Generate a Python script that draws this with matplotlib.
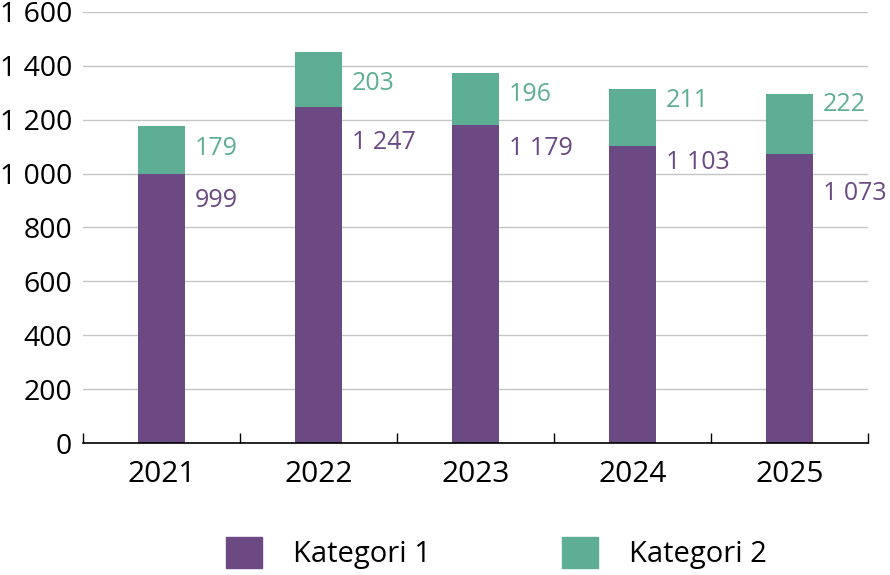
import matplotlib
matplotlib.use('Agg')
import matplotlib.pyplot as plt
from matplotlib.ticker import FuncFormatter, FixedLocator
from matplotlib.patches import Patch
import numpy as np

plt.rcParams['font.family'] = ['Open Sans', 'DejaVu Sans']

years = ['2021', '2022', '2023', '2024', '2025']
kat1 = [999, 1247, 1179, 1103, 1073]
kat2 = [179, 203, 196, 211, 222]
names = ['Kategori 1', 'Kategori 2']

# label heights (data units), picked by hand to avoid overlaps like the original
lab1_y = [902, 1114, 1095, 1043, 928]
lab2_y = [1095, 1336, 1292, 1270, 1258]

purple = '#6b4a84'
green = '#5eae96'


def fmt(v, pos=None):
    return '{:,}'.format(int(v)).replace(',', ' ')


fig = plt.figure(figsize=(8.9, 5.75), dpi=100)
ax = fig.add_axes([83/890, 1 - 443/575, 785/890, 431/575])

x = np.arange(len(years))
ax.bar(x, kat1, width=0.3, color=purple, zorder=3)
ax.bar(x, kat2, width=0.3, bottom=kat1, color=green, zorder=3)

for i in range(len(years)):
    ax.annotate(fmt(kat1[i]), (x[i] + 0.15, lab1_y[i]), xytext=(7, 0),
                textcoords='offset points', va='center', ha='left',
                fontsize=18, color=purple)
    ax.annotate(fmt(kat2[i]), (x[i] + 0.15, lab2_y[i]), xytext=(7, 0),
                textcoords='offset points', va='center', ha='left',
                fontsize=18, color=green)

ax.set_xlim(-0.5, len(years) - 0.5)
ax.set_ylim(0, 1600)
ax.set_yticks(range(0, 1601, 200))
ax.yaxis.set_major_formatter(FuncFormatter(fmt))
ax.yaxis.grid(True, color='#c4c4c4', linewidth=1, zorder=0)

ax.set_xticks(x)
ax.set_xticklabels(years)
ax.xaxis.set_minor_locator(FixedLocator(np.arange(-0.5, len(years), 1.0)))
ax.tick_params(axis='x', which='major', length=0, pad=12, labelsize=21.5)
ax.tick_params(axis='x', which='minor', direction='in', length=7.5, width=1)
ax.tick_params(axis='y', length=0, pad=8, labelsize=20.5)

for s in ['left', 'right', 'top']:
    ax.spines[s].set_visible(False)
ax.spines['bottom'].set_linewidth(1.2)
ax.spines['bottom'].set_zorder(4)

handles = [Patch(color=purple), Patch(color=green)]
fig.legend(handles, names, loc='center left', bbox_to_anchor=(226/890, 1 - 553/575),
           ncol=2, frameon=False, fontsize=21, handlelength=1.24,
           handleheight=1.24, handletextpad=1.05, columnspacing=4.5,
           borderpad=0, borderaxespad=0)

fig.savefig('out.png', dpi=100)
